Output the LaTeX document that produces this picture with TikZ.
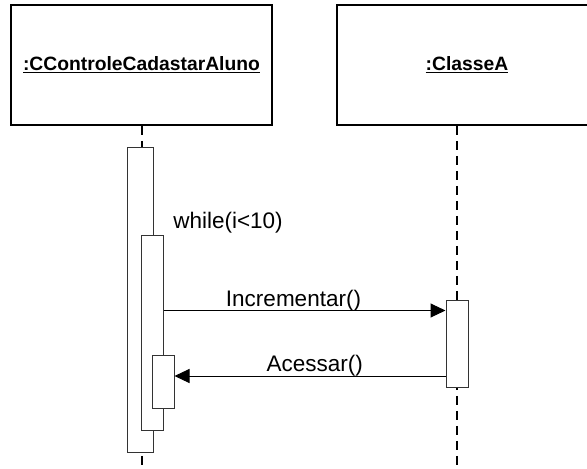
\documentclass[tikz,border=0pt]{standalone}
\usepackage{fontspec}
\setmainfont{Liberation Sans}
\usetikzlibrary{arrows.meta}
\tikzset{
    object/.style={draw, line width=1.5pt, minimum height=120pt, inner sep=0pt,
        font=\fontsize{19.3}{23}\selectfont\bfseries},
    activation/.style={draw=black!80, fill=white, line width=1pt, inner sep=0pt},
    lifeline/.style={line width=2pt, dash pattern=on 9pt off 6pt},
    message/.style={line width=1pt, -{Triangle[length=15pt,width=14pt]}},
    msglabel/.style={anchor=base, inner sep=0pt, font=\fontsize{22.5}{27}\selectfont}
}
\def\Activation at (#1, #2) size (#3, #4) name #5;{
    \node[activation, minimum width=#3pt, minimum height=#4pt] (#5) at (#1, #2) {};
}

\begin{document}
\begin{tikzpicture}[x=1pt, y=-1pt]
    \clip (0, 0) rectangle (587, 469);
    % objects
    \node[object, minimum width=261pt] (ctrl) at (141.5, 65) {\underline{:CControleCadastarAluno}};
    \node[object, minimum width=260pt] (classeA) at (467, 65) {\underline{:ClasseA}};
    % lifelines
    \coordinate (ctrlEnd) at (142, 469);
    \coordinate (classeEnd) at (457, 469);
    \draw[lifeline] (ctrlEnd |- ctrl.south) -- (ctrlEnd);
    \draw[lifeline] (classeEnd |- classeA.south) -- (classeEnd);
    % activations
    \Activation at (140, 299.5) size (26, 305) name act1;
    \Activation at (152.5, 332.5) size (22, 195) name act2;
    \Activation at (163, 381.5) size (22, 53) name act3;
    \Activation at (457, 343.5) size (22, 87) name actB;
    % messages
    \node[msglabel] (whileLbl) at (228, 228) {while(i<10)};
    \coordinate (incrIn) at ([yshift=-11pt]actB.north west);
    \draw[message] (incrIn -| act2.east) -- (incrIn);
    \node[msglabel] (incrLbl) at (293.5, 306) {Incrementar()};
    \coordinate (acessIn) at ([yshift=5.5pt]act3.east);
    \draw[message] (acessIn -| actB.west) -- (acessIn);
    \node[msglabel] (acessLbl) at (314.7, 371.7) {Acessar()};
\end{tikzpicture}
\end{document}
